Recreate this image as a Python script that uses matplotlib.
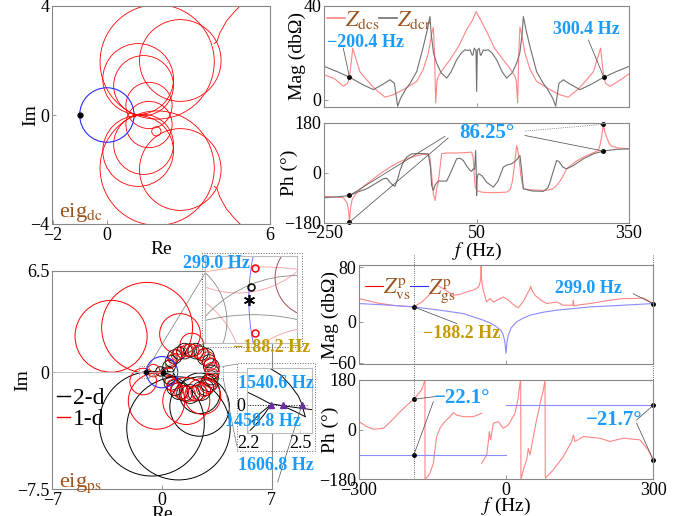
import numpy as np
import matplotlib
matplotlib.use('Agg')
import matplotlib.pyplot as plt
from matplotlib.patches import Circle, Rectangle, ConnectionPatch

plt.rcParams['font.family'] = ['Liberation Serif', 'DejaVu Serif']
plt.rcParams['mathtext.fontset'] = 'stix'
plt.rcParams['xtick.direction'] = 'in'
plt.rcParams['ytick.direction'] = 'in'
plt.rcParams['axes.edgecolor'] = '#888888'
plt.rcParams['axes.linewidth'] = 0.8
plt.rcParams['font.size'] = 13

nan = np.nan

# ---- eig_dc nyquist (circle loops: centre re, centre im, radius) ----
dc_loops = [(1.85, 1.95, 2.1), (1.85, -1.95, 2.1),
            (1.15, 1.32, 1.3), (1.15, -1.32, 1.3),
            (1.35, 1.08, 1.1), (1.35, -1.08, 1.1),
            (2.7, 2.0, 1.5), (2.7, -2.0, 1.5),
            (1.55, 0.35, 0.85), (1.55, -0.35, 0.85),
            (1.82, -0.6, 0.17)]
dc_hook_re = [3.95, 4.05, 4.15, 4.4, 4.7, 4.95]
dc_hook_im = [2.62, 2.7, 3.0, 3.45, 3.8, 4.05]

# ---- Z_dcs / Z_dcr bode ----
mag_dcs = [(-250, 10.6), (-230, 9), (-212.6, 5.7), (-204, 7), (-200.4, 9.6), (-197, 16), (-194, 22),
           (-190, 19), (-180, 12), (-166.6, 8.5), (-150, 4.5), (-130.5, 1.1), (-115, 2), (-101, 3.5),
           (-85, 5.5), (-68, 7.8), (-55, 13), (-45, 20), (-38.6, 28), (-35.3, 31), (-33, 20),
           (-30.7, -1.4), (-28, 8), (-25.5, 10), (-15, 13.5), (-2.5, 17), (15, 23), (30, 29.8),
           (42, 34), (48.7, 37.6), (58, 34), (70, 29), (85, 22), (102.5, 17), (115, 13.5),
           (125.5, 10), (128, 8), (130.7, -1.4), (133, 20), (135.3, 31), (138.6, 28), (145, 20),
           (155, 13), (168, 7.8), (185, 5.5), (201, 3.5), (215, 2), (230.5, 1.1), (250, 4.5),
           (266.7, 8.5), (280, 12), (290, 19), (294, 22), (297, 16), (300.4, 9.6), (304, 7),
           (312.6, 5.7), (330, 8), (350, 11)]
mag_dcr = [(-250, 14.2), (-225, 12), (-200.4, 9.6), (-175, 6.5), (-153.5, 4.3), (-135, 6.5),
           (-120.7, 8.5), (-112, 7), (-105.6, -2.8), (-100, 0.5), (-97.7, 1.4), (-88, 5), (-81, 7),
           (-68, 12), (-55, 22.7), (-47, 30), (-42, 35.5), (-39.5, 28), (-35, 20), (-28.8, 15.6),
           (-20, 11.5), (-9, 9.2), (0, 12), (10.6, 17), (20, 20), (27, 21.3), (33, 21), (37, 21.3),
           (41, 19), (42.5, 19), (45.4, 22), (48.7, 21), (50, 3.5), (51.3, 21), (54.6, 22),
           (57.5, 19), (59, 19), (63, 21.3), (67, 21), (73, 21.3), (80, 20), (89.4, 17), (100, 12),
           (109, 9.2), (120, 11.5), (128.8, 15.6), (135, 20), (139.5, 28), (142, 35.5), (147, 30),
           (155, 22.7), (168, 12), (181, 7), (188, 5), (197.7, 1.4), (200, 0.5), (205.6, -2.8),
           (212, 7), (220.7, 8.5), (235, 6.5), (253.5, 4.3), (275, 6.5), (300.4, 9.6), (325, 12),
           (350, 14.2)]
ph_dcs = [(-250, -85), (-225, -88), (-212.6, -90), (-205, -110), (-202, -140), (-200.4, -178),
          (-198.5, -130), (-195, -95), (-186, -72), (-170, -45), (-153.5, -22), (-137, 0),
          (-120.7, 20), (-104, 37), (-88, 50), (-70, 60), (-55, 66), (-45, 64), (-42, 56),
          (-38, -20), (-35, -80), (-31.5, -100), (-29, -60), (-25.5, -34), (-22, 20), (-19, 68),
          (-10, 71), (10, 71), (25, 72), (40, 74), (43, 56), (45, 0), (47, -50), (50, -64),
          (60, -70), (76, -72), (95, -71), (109, -70), (116, -60), (120, -35), (124, 20), (127, 70),
          (128.8, 98), (131, 80), (134, 44), (137, -10), (142, -58), (160, -62), (188, -64),
          (200, -58), (207.6, -46), (218, -20), (227, 14), (245, 40), (260, 56), (275, 68),
          (289.6, 80), (293, 100), (296, 128), (299.5, 174), (302, 150), (306, 128), (311, 105),
          (316, 95), (330, 89), (350, 86)]
ph_dcr = [(-250, -90), (-225, -87), (-200.4, -82), (-185, -70), (-166.6, -58), (-150, -40),
          (-134, -22), (-127, -20), (-120.7, -34), (-115, -45), (-110.8, -49), (-105, -20),
          (-101, 8), (-95, 35), (-88, 56), (-78, 68), (-60, 69), (-45.2, 68), (-41, 20),
          (-38.6, -46), (-35.3, -64), (-32, -45), (-25.5, -30), (-9, -30), (0, 5), (10.6, 50),
          (17, 52), (23.8, 44), (30, 25), (37, 8), (40, 5), (43.5, 14), (46, 12), (48, 80),
          (49, 20), (50, -82), (51, -20), (53, -4), (56, -6), (60, -10), (70, -35), (83, -52),
          (92, -30), (102.5, 20), (110, 28), (119, 32), (128, 45), (135.3, 62), (138, 20),
          (142, -58), (160, -66), (181.5, -67), (190, -55), (194.5, -34), (200, 0), (207.6, 44),
          (212, 40), (220, 20), (227, 14), (240, 25), (260, 50), (280, 68), (299.5, 78),
          (325, 84), (350, 86)]
dc_marks_f = [-200.4, 300.4]
dc_marks_mag = [9.6, 9.6]
ph_marks_f = [-200.4, -200.4, 299.5, 299.5]
ph_marks_deg = [-82, -178, 78, 174]

# ---- eig_ps nyquist ----
ps_red_big = [(-3.25, 2.3, 2.3), (-0.95, 2.85, 2.9), (1.15, 2.45, 1.3), (1.9, 1.75, 0.75),
              (-0.35, -1.85, 1.8), (1.55, -1.85, 1.5), (2.6, -1.55, 1.15), (-1.2, -0.6, 0.85),
              (-0.55, 0.1, 0.4)]
ps_black_big = [(-0.65, -3.3, 3.35), (1.05, -3.6, 3.3), (2.4, -2.2, 1.9), (2.4, -1.35, 1.3),
                (-0.1, 0.05, 0.3), (0.15, 0.05, 0.22)]
ps_black_ring = [(3.2, 0.0, 0.45), (3.15, 0.36, 0.5), (3.01, 0.7, 0.42), (2.79, 0.99, 0.55),
                 (2.5, 1.21, 0.45), (2.16, 1.35, 0.5), (1.8, 1.4, 0.42), (1.44, 1.35, 0.5),
                 (1.1, 1.21, 0.4), (0.81, 0.99, 0.45), (0.59, 0.7, 0.38), (0.45, 0.36, 0.4),
                 (0.4, 0.0, 0.35), (0.45, -0.36, 0.4), (0.59, -0.7, 0.45), (0.81, -0.99, 0.5),
                 (1.1, -1.21, 0.55), (1.44, -1.35, 0.5), (1.8, -1.4, 0.6), (2.16, -1.35, 0.5),
                 (2.5, -1.21, 0.6), (2.79, -0.99, 0.5), (3.01, -0.7, 0.55), (3.15, -0.36, 0.45)]
ps_red_ring = [(3.19, 0.18, 0.45), (3.09, 0.53, 0.4), (2.91, 0.85, 0.45), (2.66, 1.11, 0.4),
               (2.34, 1.29, 0.42), (1.98, 1.39, 0.38), (1.62, 1.39, 0.4), (1.26, 1.29, 0.35),
               (0.94, 1.11, 0.35), (0.69, 0.85, 0.3), (0.51, 0.53, 0.3), (0.51, -0.53, 0.32),
               (0.69, -0.85, 0.38), (0.94, -1.11, 0.42), (1.26, -1.29, 0.45), (1.62, -1.39, 0.5),
               (1.98, -1.39, 0.45), (2.34, -1.29, 0.5), (2.66, -1.11, 0.45), (2.91, -0.85, 0.5),
               (3.09, -0.53, 0.45), (3.19, -0.18, 0.4)]
# zoom 1 (around -1+j0)
in1_red = [(-0.95, -1.2, 1.35), (-1.45, -0.35, 0.42), (-0.7, -0.55, 0.42), (-1.05, 0.45, 0.42)]
in1_gray = [(-0.78, -0.45, 0.56), (-0.98, -1.0, 0.93), (-1.4, -0.1, 0.3)]
in1_brown = [(-0.7, 0.1, 0.18)]
in1_red_pts_re = [-0.972, -0.972]
in1_red_pts_im = [0.144, -0.154]
in1_blk_pt = (-0.991, 0.059)
# zoom 2 (real-axis crossings)
in2_arcs = [([2.326, 2.39, 2.443, 2.49, 2.512, 2.53], [0.21, 0.17, 0.113, 0.05, 0.0, -0.07]),
            ([2.53, 2.47, 2.41], [-0.07, -0.04, -0.013]),
            ([2.19, 2.26, 2.326, 2.42, 2.57], [0.074, 0.04, 0.005, -0.01, -0.03]),
            ([2.332, 2.29, 2.24, 2.21], [0.0, -0.06, -0.12, -0.15]),
            ([2.332, 2.27, 2.22], [0.0, -0.05, -0.10])]
in2_tri_re = [2.332, 2.403, 2.512]

# ---- Z_vs / Z_gs bode ----
f_vs = [-300, -264, -230, -188.2, -170, -155, -141.7, -128, -107.7, -95, -80.5, -65, -56, -53,
        -51.5, -51, -50, -48, -46.5, -40, -33, -26, -15, -5.8, 4.4, 15, 24.8, 35, 48.6, 50, 52,
        58.8, 70, 82.6, 103, 116.5, 135.6, 137, 138.3, 150, 171, 190, 211.7, 238.8, 260, 279.6, 300]
mag_vs = [34, 27.7, 24, 21.8, 30, 41, 53.4, 48.5, 38.8, 40, 43.7, 47, 51, 58, 70, 82, 62, 50, 46,
          29, 34, 29, 33, 36.4, 31.6, 25, 20.4, 30, 48.5, 52, 47, 38.8, 32, 26.7, 29, 24.3, 24.3,
          31.6, 23.3, 25, 26.7, 29, 31.6, 34, 34, 35, 26.7]
f_gs = [-300, -236.8, -188.2, -134.9, -87.3, -46.5, -30, -19.4, -10, -5.8, -2.5, -0.3, 2, 4.4,
        10, 21.4, 35, 48.6, 75, 103, 171, 238.8, 300]
mag_gs = [26.7, 24.3, 21.8, 17, 12.1, 2.4, -2.5, -7.3, -13, -19.4, -30, -46, -28, -19.4, -9, 0,
          5.5, 9.7, 14, 17, 21.8, 24.3, 26.7]
f_ph_vs = [-300, -285, -270.8, -250.4, -235, -216.4, -200, -188.2, -180, -172.3, -165.5, -165.5,
           -160, -155.3, -148.5, -141.7, -135, -128, -120, -114.5, -107.7, -101, -87.3, -67, -50,
           nan, -50, -39.8, -36, -34.3, -31.6, -26, -16, -5.8, 4.4, 18, 24, 28.2, 29.6, 30.2, 36,
           41.8, 45.2, 48.6, 55, 62, 70, 75.8, 79.2, 79.8, 96, 116.5, 133.5, 137, 140.3, 157.3,
           191.3, 211.7, 238.8, 272.8, 289.8, 300]
ph_vs = [29, 12, 1.2, 4.8, 30, 65, 92, 110, 128, 144, 180, -180, -170, -158, -122, -25, 5, 23,
         38, 47, 62, 53, 47, 47, 59, nan, -122, -92, -40, -7, -37, 23, 29, 5, 17, 59, 110, 168,
         180, -180, -140, -110, -68, -92, -30, 35, 100, 144, 180, -176, -146, -98, -43, -19, -43,
         -25, -31, -43, -31, -37, -74, -110]
f_ph_gs = [-300, 0, nan, 0, 300]
ph_gs = [-92, -92, nan, 88, 88]
ps_marks_f = [-188.2, 299.0]
ps_marks_mag = [21.8, 26.7]
ps_ph_marks_f = [-188.2, -188.2, 300, 300]
ps_ph_marks_deg = [110, -92, 89, -110]

RED = '#ff0000'
PINK = '#ff8585'
GRAY = '#707070'
LBLUE = '#8a8aff'
BROWN = '#9b531c'
GOLD = '#c49a00'
CYAN = '#1a9cff'

W, H = 689, 516


def box(l, t, r, b):
    return [l / W, 1 - b / H, (r - l) / W, (b - t) / H]


def setup(ax, xlim, ylim, xticks, yticks, xlabels=True):
    ax.set_xlim(xlim)
    ax.set_ylim(ylim)
    ax.set_xticks(xticks)
    ax.set_yticks(yticks)
    if not xlabels:
        ax.set_xticklabels([])
    ax.tick_params(length=3, width=0.6, color='#888888', labelsize=13, pad=2)


def circles(ax, loops, color, lw=0.7):
    for cx, cy, r in loops:
        ax.add_patch(Circle((cx, cy), r, fill=False, ec=color, lw=lw))


def unzip(pairs):
    return [p[0] for p in pairs], [p[1] for p in pairs]


fig = plt.figure(figsize=(6.89, 5.16), dpi=100)

# ----- top left: eig_dc -----
ax = fig.add_axes(box(52.5, 6, 270, 224))
setup(ax, (-2, 6), (-4, 4), [-2, 0, 6], [-4, 0, 4])
circles(ax, dc_loops, RED, lw=0.6)
ax.plot(dc_hook_re, dc_hook_im, color=RED, lw=0.6)
ax.plot(dc_hook_re, [-v for v in dc_hook_im], color=RED, lw=0.6)
ax.add_patch(Circle((0, 0), 1, fill=False, ec='#2a2aff', lw=0.8))
ax.plot([-1], [0], 'o', color='k', ms=3.5)
ax.plot([0.98], [0], 'o', color=RED, ms=2)
ax.set_xlabel('Re', labelpad=-2, fontsize=14)
ax.set_ylabel('Im', labelpad=-6, fontsize=14)
ax.text(0.03, 0.03, r'eig$_{\mathrm{dc}}$', color=BROWN, fontsize=16, transform=ax.transAxes)

# ----- top right: Z_dc magnitude -----
ax = fig.add_axes(box(324.3, 6, 629, 106.7))
setup(ax, (-250, 350), (-3, 40), [-250, 50, 350], [0, 40], xlabels=False)
f, v = unzip(mag_dcs)
l1, = ax.plot(f, v, color=PINK, lw=0.8)
f, v = unzip(mag_dcr)
l2, = ax.plot(f, v, color=GRAY, lw=0.8)
ax.plot(dc_marks_f, dc_marks_mag, 'o', color='k', ms=2.5)
ax.plot([-200.4, -212.6], [9.6, 22], color='#444444', lw=0.5)
ax.plot([300.4, 270], [9.6, 25.5], color='#444444', lw=0.5)
ax.text(-244, 24.5, '\u2212200.4 Hz', color=CYAN, fontsize=13, fontweight='bold', va='center')
ax.text(200, 29.8, '300.4 Hz', color=CYAN, fontsize=13, fontweight='bold', va='center')
leg = ax.legend([l1, l2], [r'$Z_{\mathrm{dcs}}$', r'$Z_{\mathrm{dcr}}$'], loc='upper left',
                bbox_to_anchor=(-0.02, 1.06), ncol=2, frameon=False, handlelength=0.8,
                handletextpad=0.0, columnspacing=0.0, fontsize=16, borderaxespad=0)
for t in leg.get_texts():
    t.set_color(BROWN)
for h in leg.legend_handles:
    h.set_linewidth(1.2)
ax.set_ylabel('Mag (db\u03a9)', fontsize=14, labelpad=-2)

# ----- top right: Z_dc phase -----
ax = fig.add_axes(box(324.3, 122.7, 629, 222.7))
setup(ax, (-250, 350), (-180, 180), [-250, 50, 350], [-180, 0, 180])
f, v = unzip(ph_dcs)
ax.plot(f, v, color=PINK, lw=0.8)
f, v = unzip(ph_dcr)
ax.plot(f, v, color=GRAY, lw=0.8)
ax.plot(ph_marks_f, ph_marks_deg, 'o', color='k', ms=2.5, clip_on=False)
ax.plot([-200.4, -12.3], [-82, 131], color='#444444', lw=0.5)
ax.plot([-200.4, -6], [-178, 125], color='#444444', lw=0.5)
ax.plot([145, 299.5], [150, 174], color='#444444', lw=0.5, ls=':')
ax.plot([145, 299.5], [134, 78], color='#444444', lw=0.5)
ax.text(70, 143, '86.25\u00b0', color=CYAN, fontsize=15, fontweight='bold', ha='center', va='center')
ax.set_ylabel('Ph (\u00b0)', fontsize=14, labelpad=-10)
ax.set_xlabel(r'$f$ (Hz)', fontsize=14, labelpad=-1)

# ----- bottom left: eig_ps -----
ax = fig.add_axes(box(52.3, 270.7, 271.7, 489.3))
ax_ps = ax
setup(ax, (-7, 7), (-7.5, 6.5), [-7, 0, 7], [-7.5, 0, 6.5])
ax.set_yticklabels(['\u22127.5', '0', '6.5'])
ax.set_xticklabels(['\u22127', '0', '7'])
ax.axhline(0, color='#bbbbbb', lw=0.6)
circles(ax, ps_black_big, 'k')
circles(ax, ps_red_big, RED)
circles(ax, ps_black_ring, 'k', lw=0.6)
circles(ax, ps_red_ring, RED, lw=0.6)
ax.add_patch(Circle((0, 0), 1, fill=False, ec='#2a2aff', lw=0.8))
ax.plot([-1, 0.05], [0, -0.05], 'o', color='k', ms=3)
h1, = ax.plot([], [], color='k', lw=1.0)
h2, = ax.plot([], [], color=RED, lw=1.0)
ax.legend([h1, h2], ['2-d', '1-d'], loc='upper left', bbox_to_anchor=(-0.02, 0.51),
          frameon=False, handlelength=0.55, handletextpad=0.1, labelspacing=0.0,
          fontsize=17, borderaxespad=0)
ax.set_xlabel('Re', labelpad=-2, fontsize=14)
ax.set_ylabel('Im', labelpad=-10, fontsize=14)
ax.text(0.03, 0.01, r'eig$_{\mathrm{ps}}$', color=BROWN, fontsize=16, transform=ax.transAxes)
ax.add_patch(Rectangle((-1.45, -0.37), 0.6, 0.74, fill=False, ec='#666666', lw=0.6, ls=':'))
ax.add_patch(Rectangle((3.45, -0.37), 0.45, 0.74, fill=False, ec='#666666', lw=0.6, ls=':'))

# inset 1
ax1 = fig.add_axes(box(205, 256, 297, 343))
ax1.set_xlim(-1.2, -0.78)
ax1.set_ylim(-0.2, 0.2)
ax1.set_xticks([])
ax1.set_yticks([])
for s in ax1.spines.values():
    s.set_color('#bbbbbb')
circles(ax1, in1_red, '#ff9a9a', lw=0.6)
circles(ax1, in1_gray, '#888888', lw=0.6)
circles(ax1, in1_brown, '#a05050', lw=0.7)
ax1.add_patch(Circle((0, 0), 1, fill=False, ec='#6060ff', lw=0.6))
ax1.plot(in1_red_pts_re, in1_red_pts_im, 'o', mfc='none', mec=RED, ms=5, mew=1.1)
ax1.plot([in1_blk_pt[0]], [in1_blk_pt[1]], 'o', mfc='none', mec='k', ms=5, mew=1.1)
ax1.plot([-1], [0], marker=(6, 2, 0), color='k', ms=8, mew=1.2)

# inset 2
ax2 = fig.add_axes(box(246.7, 368, 311.7, 433.3))
ax2.set_xlim(2.19, 2.568)
ax2.set_ylim(-0.167, 0.212)
ax2.set_xticks([2.2, 2.5])
ax2.set_xticklabels(['2.2', '2.5'])
ax2.set_yticks([0])
ax2.tick_params(length=2, width=0.5, color='#bbbbbb', labelsize=13, pad=1)
for s in ax2.spines.values():
    s.set_color('#bbbbbb')
ax2.axhline(0, xmax=0.93, color='k', lw=0.7, ls=':')
for xs, ys in in2_arcs:
    ax2.plot(xs, ys, color='k', lw=0.7)
ax2.plot(in2_tri_re, [0, 0, 0], '^', color='#6a2fa0', ms=5)

# dotted frames and connectors of the insets
fig.add_artist(Rectangle((201.5 / W, 1 - 347 / H), 100 / W, 94.5 / H, transform=fig.transFigure,
                         fill=False, ec='#666666', lw=0.7, ls=':'))
fig.add_artist(Rectangle((236.7 / W, 1 - 451 / H), 78.3 / W, 88 / H, transform=fig.transFigure,
                         fill=False, ec='#666666', lw=0.7, ls=':'))
for xyA, xyB in [((-0.85, 0.37), (0.0, 0.8)), ((-0.85, -0.37), (0.0, 0.0))]:
    fig.add_artist(ConnectionPatch(xyA, xyB, 'data', 'axes fraction', axesA=ax_ps, axesB=ax1,
                                   color='#777777', lw=0.5))
for xyA, xyB in [((3.9, 0.37), (-0.15, 1.06)), ((3.9, -0.37), (-0.15, -0.2))]:
    fig.add_artist(ConnectionPatch(xyA, xyB, 'data', 'axes fraction', axesA=ax_ps, axesB=ax2,
                                   color='#777777', lw=0.5))
ax2.plot([2.512, 2.37], [0, -0.45], color='#555555', lw=0.5, clip_on=False)

fig.text(216 / W, 1 - 263 / H, '299.0 Hz', color=CYAN, fontsize=13, fontweight='bold',
         ha='center', va='center')
fig.text(272 / W, 1 - 347 / H, '\u2212188.2 Hz', color=GOLD, fontsize=13, fontweight='bold',
         ha='center', va='center')
fig.text(276 / W, 1 - 384 / H, '1540.6 Hz', color=CYAN, fontsize=13, fontweight='bold',
         ha='center', va='center')
fig.text(263 / W, 1 - 422 / H, '1458.8 Hz', color=CYAN, fontsize=13, fontweight='bold',
         ha='center', va='center')
fig.text(276 / W, 1 - 466 / H, '1606.8 Hz', color=CYAN, fontsize=13, fontweight='bold',
         ha='center', va='center')

# ----- bottom right: Z^p magnitude -----
ax = fig.add_axes(box(359, 265, 653.3, 364.3))
setup(ax, (-300, 300), (-62, 83), [-300, 0, 300], [-60, 0, 80], xlabels=False)
l1, = ax.plot(f_vs, mag_vs, color=PINK, lw=0.8)
l2, = ax.plot(f_gs, mag_gs, color=LBLUE, lw=0.8)
for fv in ps_marks_f:
    ax.axvline(fv, ymin=0, ymax=1.1, color='#333333', lw=0.6, ls=':', clip_on=False)
ax.plot(ps_marks_f, ps_marks_mag, 'o', color='k', ms=2.5, clip_on=False)
ax.plot([-188.2, -101], [21.8, -2.4], color='#444444', lw=0.5)
ax.plot([299, 259], [26.7, 41], color='#444444', lw=0.5)
ax.text(100, 48.5, '299.0 Hz', color=CYAN, fontsize=13, fontweight='bold', va='center')
ax.text(-170, -17, '\u2212188.2 Hz', color=GOLD, fontsize=13, fontweight='bold', va='center')
leg = ax.legend([l1, l2], [r'$Z^{\mathrm{p}}_{\mathrm{vs}}$', r'$Z^{\mathrm{p}}_{\mathrm{gs}}$'],
                loc='upper left', bbox_to_anchor=(-0.01, 0.97), ncol=2, frameon=False,
                handlelength=0.8, handletextpad=0.0, columnspacing=0.0, fontsize=16,
                borderaxespad=0)
for t in leg.get_texts():
    t.set_color(BROWN)
leg.legend_handles[0].set_color(RED)
leg.legend_handles[1].set_color('#3030ff')
ax.set_ylabel('Mag (db\u03a9)', fontsize=14, labelpad=-8)

# ----- bottom right: Z^p phase -----
ax = fig.add_axes(box(359, 380, 653.3, 479.3))
setup(ax, (-300, 300), (-180, 180), [-300, 0, 300], [-180, 0, 180])
ax.plot(f_ph_vs, ph_vs, color=PINK, lw=0.8)
ax.plot(f_ph_gs, ph_gs, color=LBLUE, lw=0.8)
for fv in ps_marks_f:
    ax.axvline(fv, ymin=0, ymax=1.16, color='#333333', lw=0.6, ls=':', clip_on=False)
ax.plot(ps_ph_marks_f, ps_ph_marks_deg, 'o', color='k', ms=2.5, clip_on=False)
ax.plot([-188.2, -145], [110, 120], color='#444444', lw=0.5)
ax.plot([-188.2, -148.5], [-92, 101], color='#444444', lw=0.5)
ax.plot([300, 266], [89, 35], color='#444444', lw=0.5)
ax.plot([300, 266], [-110, 23], color='#444444', lw=0.5)
ax.text(-148, 113, '\u221222.1\u00b0', color=CYAN, fontsize=15, fontweight='bold', va='center')
ax.text(163, 35, '\u221221.7\u00b0', color=CYAN, fontsize=15, fontweight='bold', va='center')
ax.set_ylabel('Ph (\u00b0)', fontsize=14, labelpad=-14)
ax.set_xlabel(r'$f$ (Hz)', fontsize=14, labelpad=-2.5)

fig.savefig('out.png', dpi=100)
